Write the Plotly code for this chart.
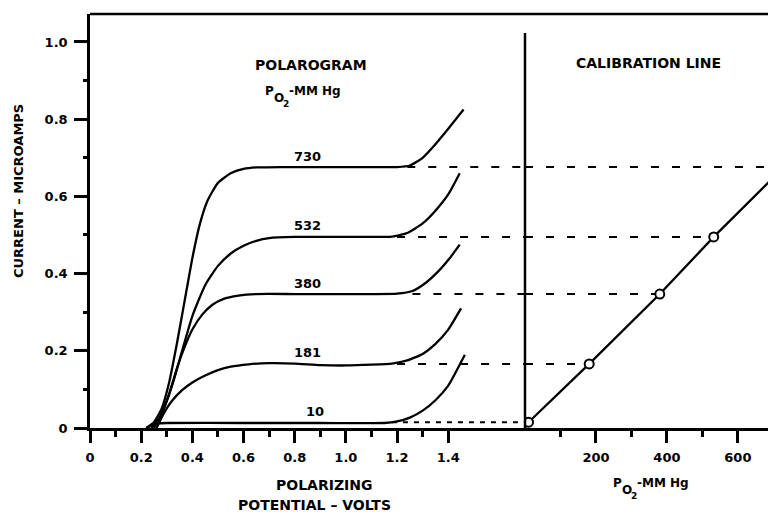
import plotly.graph_objects as go

# ---- Polarogram curves: current (microamps) vs polarizing potential (volts)
po2_levels = [730, 532, 380, 181, 10]          # mm Hg, one curve per level

v_730 = [0.22, 0.25, 0.28, 0.31, 0.34, 0.37, 0.40, 0.43, 0.46, 0.50, 0.55, 0.60, 0.65,
         0.75, 0.90, 1.05, 1.20, 1.25, 1.30, 1.35, 1.40, 1.46]
i_730 = [0.0, 0.015, 0.05, 0.12, 0.22, 0.33, 0.44, 0.53, 0.59, 0.635, 0.66, 0.671, 0.675,
         0.676, 0.676, 0.676, 0.676, 0.68, 0.70, 0.735, 0.775, 0.825]

v_532 = [0.24, 0.27, 0.30, 0.33, 0.36, 0.40, 0.45, 0.50, 0.55, 0.60, 0.65, 0.70, 0.80,
         0.95, 1.10, 1.18, 1.24, 1.30, 1.35, 1.40, 1.445]
i_532 = [0.0, 0.025, 0.07, 0.13, 0.20, 0.29, 0.37, 0.42, 0.452, 0.472, 0.485, 0.492, 0.495,
         0.495, 0.495, 0.496, 0.505, 0.53, 0.563, 0.605, 0.66]

v_380 = [0.25, 0.28, 0.31, 0.34, 0.37, 0.40, 0.44, 0.48, 0.52, 0.58, 0.65, 0.80, 0.95,
         1.10, 1.20, 1.26, 1.31, 1.36, 1.40, 1.445]
i_380 = [0.0, 0.035, 0.09, 0.155, 0.21, 0.255, 0.295, 0.32, 0.334, 0.343, 0.347, 0.347, 0.347,
         0.347, 0.348, 0.355, 0.375, 0.405, 0.435, 0.475]

v_181 = [0.26, 0.29, 0.32, 0.36, 0.40, 0.45, 0.50, 0.55, 0.62, 0.70, 0.80, 0.90, 1.00,
         1.10, 1.18, 1.24, 1.30, 1.35, 1.40, 1.45]
i_181 = [0.0, 0.04, 0.07, 0.098, 0.118, 0.136, 0.15, 0.159, 0.165, 0.168, 0.167, 0.163, 0.162,
         0.164, 0.167, 0.175, 0.192, 0.218, 0.255, 0.31]

v_10 = [0.22, 0.24, 0.27, 0.30, 0.60, 0.90, 1.15, 1.20, 1.25, 1.30, 1.35, 1.40, 1.465]
i_10 = [0.0, 0.006, 0.012, 0.013, 0.013, 0.013, 0.013, 0.017, 0.027, 0.045, 0.072, 0.11, 0.19]

curves_v = [v_730, v_532, v_380, v_181, v_10]
curves_i = [i_730, i_532, i_380, i_181, i_10]

# plateau (diffusion) current for each level and where its dashed guide starts
plateau_current = [0.676, 0.495, 0.347, 0.166, 0.015]
guide_start_v = [1.24, 1.20, 1.26, 1.20, 1.18]

# ---- Axis ticks
volt_ticks = [0, 0.2, 0.4, 0.6, 0.8, 1.0, 1.2, 1.4]
volt_labels = ["0", "0.2", "0.4", "0.6", "0.8", "1.0", "1.2", "1.4"]
volt_minor = [0.1, 0.3, 0.5, 0.7, 0.9, 1.1, 1.3]
po2_ticks = [200, 400, 600]
po2_minor = [100, 300, 500]
current_ticks = [0, 0.2, 0.4, 0.6, 0.8, 1.0]
current_labels = ["0", "0.2", "0.4", "0.6", "0.8", "1.0"]

VOLT_MAX = 1.70
PO2_MAX = 685
CUR_MAX = 1.0725

FONT = "DejaVu Sans"
INK = "black"

# page geometry (pixels)
W, H = 768, 514
L, R, T, B = 90, 0, 14, 86
split_px = 525
plot_w = W - L - R
plot_h = H - T - B
split = (split_px - L) / plot_w


def px(xp, yp):
    return (xp - L) / plot_w, (H - B - yp) / plot_h


fig = go.Figure()

# polarogram curves
for v, i in zip(curves_v, curves_i):
    fig.add_trace(go.Scatter(x=v, y=i, mode="lines", xaxis="x", yaxis="y",
                             line=dict(color=INK, width=2.3, shape="spline", smoothing=0.5),
                             hoverinfo="skip", showlegend=False))

# dashed guides from each plateau across to the calibration line
for k, (c, v0, p) in enumerate(zip(plateau_current, guide_start_v, po2_levels)):
    dash = "5px,6px" if k == len(po2_levels) - 1 else "8px,13px"
    fig.add_trace(go.Scatter(x=[v0, VOLT_MAX], y=[c, c], mode="lines", xaxis="x", yaxis="y",
                             line=dict(color=INK, width=2, dash=dash),
                             hoverinfo="skip", showlegend=False))
    fig.add_trace(go.Scatter(x=[0, p], y=[c, c], mode="lines", xaxis="x2", yaxis="y",
                             line=dict(color=INK, width=2, dash=dash),
                             hoverinfo="skip", showlegend=False))

# calibration line with open circle points
fig.add_trace(go.Scatter(x=po2_levels[::-1], y=plateau_current[::-1], mode="lines+markers",
                         xaxis="x2", yaxis="y",
                         line=dict(color=INK, width=2.3),
                         marker=dict(symbol="circle", size=9, color="white",
                                     line=dict(color=INK, width=2)),
                         hoverinfo="skip", showlegend=False))

axis_common = dict(showline=True, linecolor=INK, linewidth=2.5, showgrid=False,
                   zeroline=False, ticks="outside", tickcolor=INK, tickwidth=2.5,
                   ticklabelstandoff=4,
                   tickfont=dict(family=FONT, size=13, color=INK, weight="bold"))

fig.update_layout(
    width=W, height=H,
    margin=dict(l=L, r=R, t=T, b=B, pad=0),
    paper_bgcolor="white", plot_bgcolor="white",
    showlegend=False,
    xaxis=dict(domain=[0, split], range=[0, VOLT_MAX], anchor="y",
               tickvals=volt_ticks, ticktext=volt_labels, ticklen=12,
               minor=dict(tickvals=volt_minor, ticklen=6, tickwidth=2.5,
                          tickcolor=INK, ticks="outside"),
               **axis_common),
    xaxis2=dict(domain=[split, 1], range=[0, PO2_MAX], anchor="y",
                tickvals=po2_ticks, ticktext=[str(t) for t in po2_ticks], ticklen=12,
                minor=dict(tickvals=po2_minor, ticklen=6, tickwidth=2.5,
                           tickcolor=INK, ticks="outside"),
                **axis_common),
    yaxis=dict(domain=[0, 1], range=[0, CUR_MAX], anchor="x",
               tickvals=current_ticks, ticktext=current_labels, ticklen=13,
               minor=dict(dtick=0.1, ticklen=4, tickwidth=2.5,
                          tickcolor=INK, ticks="outside"),
               **axis_common),
)

# top border and the calibration-panel divider
fig.add_shape(type="line", xref="paper", yref="paper", x0=0, x1=1, y0=1, y1=1,
              line=dict(color=INK, width=2.5))
fig.add_shape(type="line", xref="paper", yref="y", x0=split, x1=split, y0=0, y1=1.023,
              line=dict(color=INK, width=2.5))


def label(text, xp, yp, size=13, angle=0, anchor="center"):
    x, y = px(xp, yp)
    fig.add_annotation(x=x, y=y, xref="paper", yref="paper", text=text, showarrow=False,
                       xanchor=anchor, yanchor="middle", textangle=angle,
                       font=dict(family=FONT, size=size, color=INK, weight="bold"))


def po2_unit(xl, yc):
    # "P" with a stepped-down "O" and "2", followed by "-MM Hg"
    label("P", xl, yc, size=12, anchor="left")
    label("O", xl + 9, yc + 7, size=12, anchor="left")
    label("2", xl + 18, yc + 13, size=9, anchor="left")
    label("-MM Hg", xl + 24, yc, size=12, anchor="left")


# curve labels, placed just above each plateau
label_v = [0.85, 0.85, 0.85, 0.85, 0.88]
for p, c, v in zip(po2_levels, plateau_current, label_v):
    fig.add_annotation(x=v, y=c, xref="x", yref="y", text=str(p), showarrow=False,
                       yshift=11, xanchor="center", yanchor="middle",
                       font=dict(family=FONT, size=13, color=INK, weight="bold"))

label("POLAROGRAM", 311, 65, size=14)
po2_unit(263, 91)
label("CALIBRATION LINE", 648, 63, size=14)
label("CURRENT – MICROAMPS", 18, 191, size=13, angle=-90)
label("POLARIZING", 324, 485, size=14)
label("POTENTIAL – VOLTS", 314, 505, size=14)
po2_unit(611, 483)

fig.write_html("out.html")
